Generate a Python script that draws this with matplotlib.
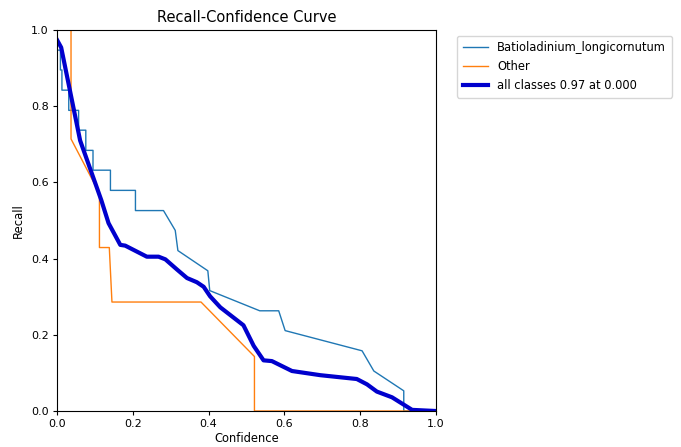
import matplotlib
matplotlib.use("Agg")
import matplotlib.pyplot as plt

# Batioladinium_longicornutum (19 instances -> steps of 1/19)
batio_conf = [0.0, 0.004, 0.004, 0.009, 0.009, 0.013, 0.013, 0.031, 0.031, 0.057, 0.057,
              0.076, 0.076, 0.095, 0.095, 0.141, 0.141, 0.207, 0.207, 0.281, 0.312, 0.319,
              0.398, 0.403, 0.535, 0.585, 0.602, 0.805, 0.836, 0.915, 0.915, 1.0]
batio_recall = [0.947, 0.947, 0.947, 0.947, 0.895, 0.895, 0.842, 0.842, 0.789, 0.789, 0.737,
                0.737, 0.684, 0.684, 0.632, 0.632, 0.579, 0.579, 0.526, 0.526, 0.474, 0.421,
                0.368, 0.316, 0.263, 0.263, 0.211, 0.158, 0.105, 0.053, 0.0, 0.0]

# Other (7 instances)
other_conf = [0.0, 0.037, 0.037, 0.112, 0.112, 0.138, 0.145, 0.380, 0.521, 0.521, 1.0]
other_recall = [1.0, 1.0, 0.714, 0.571, 0.429, 0.429, 0.286, 0.286, 0.143, 0.0, 0.0]

# all classes (smoothed mean)
all_conf = [0.0, 0.011, 0.061, 0.117, 0.136, 0.167, 0.180, 0.237, 0.268, 0.286, 0.317,
            0.343, 0.369, 0.387, 0.404, 0.431, 0.492, 0.519, 0.545, 0.567, 0.620, 0.695,
            0.791, 0.818, 0.844, 0.884, 0.937, 1.0]
all_recall = [0.974, 0.954, 0.710, 0.553, 0.493, 0.436, 0.434, 0.405, 0.405, 0.398, 0.371,
              0.349, 0.338, 0.326, 0.301, 0.272, 0.225, 0.171, 0.133, 0.131, 0.105, 0.094,
              0.084, 0.070, 0.051, 0.036, 0.003, 0.0]

fig = plt.figure(figsize=(6.81, 4.47), dpi=100)
ax = fig.add_axes([0.0837, 0.0805, 0.5565, 0.8525])

ax.plot(batio_conf, batio_recall, linewidth=1, color="#1f77b4", label="Batioladinium_longicornutum")
ax.plot(other_conf, other_recall, linewidth=1, color="#ff7f0e", label="Other")
ax.plot(all_conf, all_recall, linewidth=3, color="#0000cd", label="all classes 0.97 at 0.000")

ax.set_xlim(0, 1)
ax.set_ylim(0, 1)
ax.set_xlabel("Confidence", fontsize=8.3, labelpad=2)
ax.set_ylabel("Recall", fontsize=8.3)
ax.set_title("Recall-Confidence Curve", fontsize=10.5)
ax.tick_params(labelsize=8, length=2.6)
ax.legend(bbox_to_anchor=(1.04, 1), loc="upper left", fontsize=8.3,
          handlelength=2.2, borderpad=0.5)

fig.savefig("out.png", dpi=100)
